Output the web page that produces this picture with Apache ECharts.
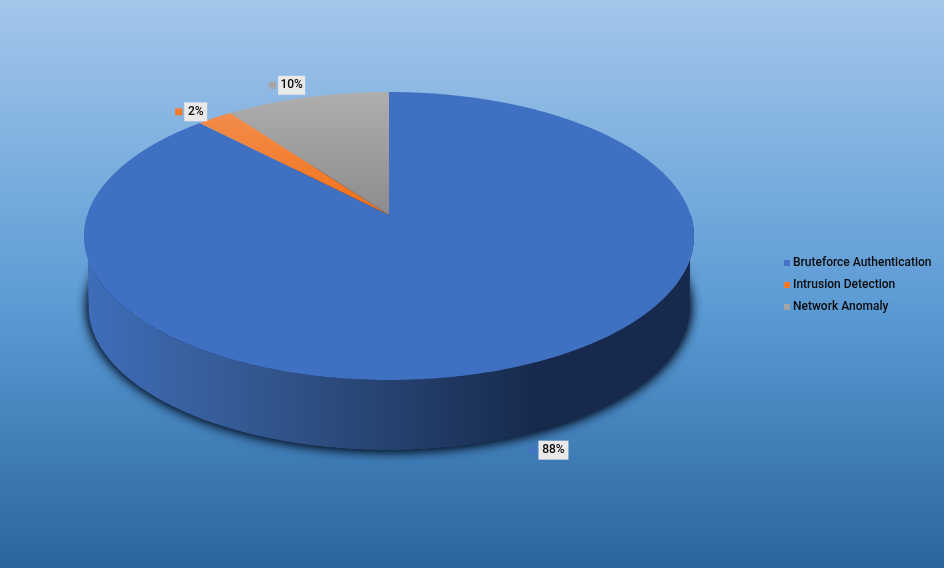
<!DOCTYPE html>
<html>
<head>
<meta charset="utf-8">
<style>html,body{margin:0;padding:0;background:#fff}#c{width:944px;height:568px}</style>
<script src="https://cdn.jsdelivr.net/npm/echarts@6/dist/echarts.min.js"></script>
</head>
<body>
<div id="c"></div>
<script>
const categories = ['Bruteforce Authentication', 'Intrusion Detection', 'Network Anomaly'];
const values = [87.8, 2.2, 10];
const legendColors = ['#4472c4', '#f47a29', '#a5a5a5'];

// perspective disc geometry
const CX = 389, APEX_Y = 215, PERSP = -0.1458, YK = 109.6, XK = 301.7;
const BASE = {cy: 307, rx: 300.5, ry: 143};
const FONT = 'Roboto';

function rimPoint(deg) {
  const t = deg * Math.PI / 180, u = Math.sin(t), v = Math.cos(t); // v>0 is the far side
  const d = 1 - PERSP * v;
  return [CX + XK * u / d, (APEX_Y - YK * v) / d];
}
function basePoint(deg) {
  const t = deg * Math.PI / 180;
  return [CX + BASE.rx * Math.sin(t), BASE.cy - BASE.ry * Math.cos(t)];
}
function arcPoints(fn, a, b) {
  const n = Math.max(2, Math.ceil(Math.abs(b - a) * 2)), out = [];
  for (let i = 0; i <= n; i++) out.push(fn(a + (b - a) * i / n));
  return out;
}
const total = values.reduce((s, v) => s + v, 0);
const starts = [];
values.reduce((s, v, i) => { starts[i] = s; return s + v; }, 0);
const vGrad = (a, b) => ({type: 'linear', x: 0, y: 92, x2: 0, y2: APEX_Y, global: true,
  colorStops: [{offset: 0, color: a}, {offset: 1, color: b}]});
const topFills = ['#4070c2', vGrad('#f19355', '#f46f17'), vGrad('#aeaeae', '#8c8c8c')];
const labelOffsets = [[34, 84], [-19, -6], [-15.5, -12]];
const boxW = [30, 23, 27];

function renderWall() {
  const lower = arcPoints(basePoint, 90, 270);
  const upper = arcPoints(rimPoint, 270, 90);
  const ring = arcPoints(basePoint, 0, 360);
  const shadow = {fill: '#14263f', shadowBlur: 12, shadowColor: 'rgba(6,18,38,1)'};
  return {
    type: 'group', silent: true,
    children: [
      {type: 'polygon', shape: {points: ring}, style: shadow},
      {type: 'polygon', shape: {points: ring}, style: shadow},
      {type: 'polygon', shape: {points: lower.concat(upper)},
       style: {fill: {type: 'linear', x: 86, y: 0, x2: 692, y2: 0, global: true, colorStops: [
         {offset: 0, color: '#3f6db9'}, {offset: 0.18, color: '#38609f'},
         {offset: 0.45, color: '#294776'}, {offset: 0.74, color: '#172a4e'}, {offset: 1, color: '#172a4e'}]}}}
    ]
  };
}
function renderSlice(params) {
  const i = params.seriesIndex - 1;
  const a = starts[i] / total * 360, b = (starts[i] + values[i]) / total * 360;
  const pts = [[CX, APEX_Y]].concat(arcPoints(rimPoint, a, b));
  const m = rimPoint((a + b) / 2);
  const cx = m[0] + labelOffsets[i][0], cy = m[1] + labelOffsets[i][1];
  const w = boxW[i], h = 19;
  return {
    type: 'group', silent: true,
    children: [
      {type: 'polygon', shape: {points: pts}, style: {fill: topFills[i]}},
      {type: 'rect', z2: 10, shape: {x: cx - w / 2 - 9, y: cy - 3.5, width: 7, height: 7}, style: {fill: legendColors[i]}},
      {type: 'rect', z2: 10, shape: {x: cx - w / 2, y: cy - h / 2, width: w, height: h}, style: {fill: '#e9e9e9'}},
      {type: 'text', z2: 11, style: {x: cx, y: cy, text: Math.round(values[i]) + '%', align: 'center', verticalAlign: 'middle',
        fill: '#0a0a0a', font: '500 12px ' + FONT}}
    ]
  };
}
const series = [{type: 'custom', name: 'wall', coordinateSystem: 'none', data: [[0]], renderItem: renderWall, silent: true, z: 1}];
categories.forEach((name, i) => series.push({
  type: 'custom', name, coordinateSystem: 'none', data: [[values[i]]], renderItem: renderSlice, silent: true, z: 2 + i,
  itemStyle: {color: legendColors[i]}
}));

const chart = echarts.init(document.getElementById('c'), null, {renderer: 'canvas'});
chart.setOption({
  animation: false,
  backgroundColor: {type: 'linear', x: 0, y: 0, x2: 0, y2: 1, colorStops: [
    {offset: 0, color: '#a3c6ea'}, {offset: 0.55, color: '#5a9ad4'}, {offset: 1, color: '#2a659f'}]},
  legend: {
    data: categories, orient: 'vertical', left: 779, top: 252, selectedMode: false,
    icon: 'rect', itemWidth: 6, itemHeight: 6, itemGap: 10,
    textStyle: {color: '#0a0a0a', fontFamily: FONT, fontSize: 12, fontWeight: 500, padding: [0, 0, 0, -2]}
  },
  series
});
</script>
</body>
</html>
